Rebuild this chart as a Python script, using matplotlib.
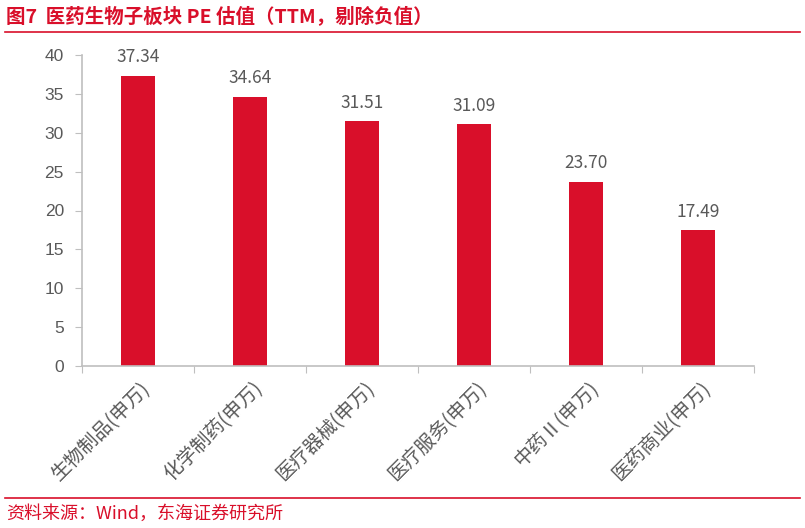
import matplotlib
matplotlib.use("Agg")
import matplotlib.pyplot as plt
import numpy as np
from matplotlib.lines import Line2D

plt.rcParams['font.family'] = ['Noto Sans CJK SC', 'DejaVu Sans']

categories = ["生物制品(申万)", "化学制药(申万)", "医疗器械(申万)",
              "医疗服务(申万)", "中药Ⅱ(申万)", "医药商业(申万)"]
pe_values = [37.34, 34.64, 31.51, 31.09, 23.70, 17.49]
y_ticks = [0, 5, 10, 15, 20, 25, 30, 35, 40]

red = "#D90F2A"
grey_text = "#595959"
axis_grey = "#BFBFBF"

fig = plt.figure(figsize=(8.05, 5.28), dpi=100)
ax = fig.add_axes([82 / 805, 1 - 366 / 528, (754 - 82) / 805, (366 - 55) / 528])

x = np.arange(len(categories))
bars = ax.bar(x, pe_values, width=0.31, color=red, zorder=2)

for xi, v in zip(x, pe_values):
    ax.text(xi, v + 1.2, f"{v:.2f}", ha="center", va="bottom",
            fontsize=12.5, color=grey_text)

ax.set_xlim(-0.5, len(categories) - 0.5)
ax.set_ylim(0, 40)
ax.set_yticks(y_ticks)
ax.set_yticklabels([str(t) for t in y_ticks], fontsize=12.5, color=grey_text,
                   family=["Liberation Sans", "DejaVu Sans"])

# category boundary ticks on the x axis
ax.set_xticks(np.arange(-0.5, len(categories), 1.0))
ax.set_xticklabels([])
ax.tick_params(axis="x", length=5, color=axis_grey, direction="out")
ax.tick_params(axis="y", length=5, color=axis_grey, direction="out", pad=8)

for xi, lab in zip(x, categories):
    ax.annotate(lab, xy=(xi, 0), xycoords=("data", "axes fraction"),
                xytext=(7, -14), textcoords="offset points",
                rotation=45, ha="right", va="center", rotation_mode="anchor",
                fontsize=14, color=grey_text)

for side in ["top", "right"]:
    ax.spines[side].set_visible(False)
ax.spines["left"].set_color(axis_grey)
ax.spines["bottom"].set_color(axis_grey)
ax.spines["left"].set_linewidth(1.2)
ax.spines["bottom"].set_linewidth(1.2)

# header and footer
fig.text(6 / 805, 1 - 16 / 528, "图7  医药生物子板块 PE 估值（TTM，剔除负值）",
         fontsize=14, fontweight="bold", color=red, va="center", ha="left")
fig.add_artist(Line2D([5 / 805, 800 / 805], [1 - 32 / 528, 1 - 32 / 528],
                      color=red, lw=1.2, transform=fig.transFigure))
fig.add_artist(Line2D([5 / 805, 800 / 805], [1 - 498 / 528, 1 - 498 / 528],
                      color=red, lw=1.2, transform=fig.transFigure))
fig.text(6 / 805, 1 - 514 / 528, "资料来源：Wind，东海证券研究所",
         fontsize=13, color=red, va="center", ha="left")

fig.savefig("out.png", dpi=100)
